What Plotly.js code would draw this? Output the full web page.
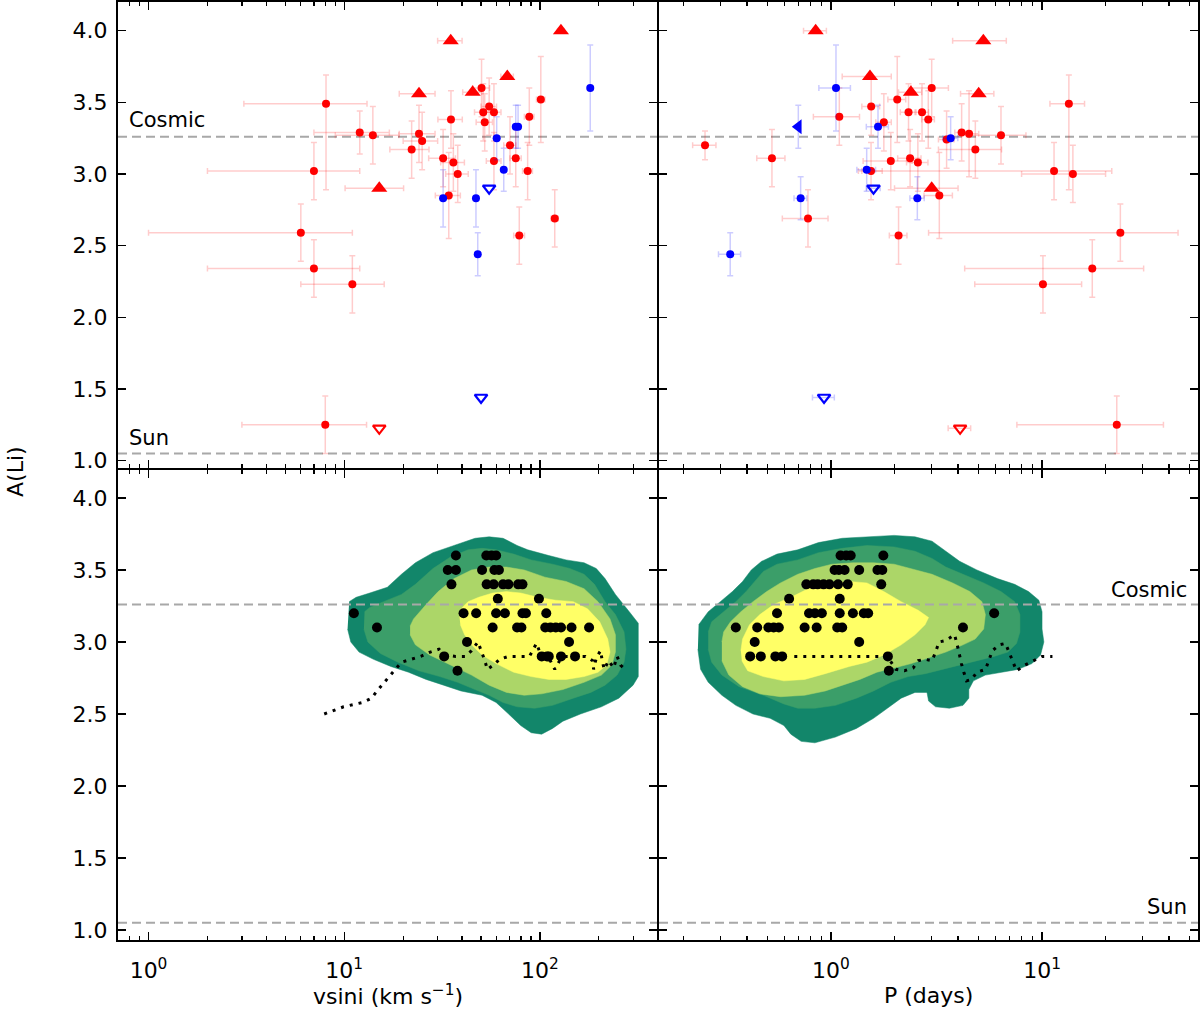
<!DOCTYPE html>
<html><head><meta charset="utf-8">
<script src="https://cdn.plot.ly/plotly-3.0.1.min.js"></script>
<style>html,body{margin:0;padding:0;background:#fff}#chart{width:1200px;height:1010px}</style>
</head><body><div id="chart"></div>
<script>
// Reference abundances
const COSMIC = 3.26, SUN = 1.05;

// ---------- Top-left: A(Li) vs vsini ----------
const vsiniRed = [8.07, 7.0, 12.0, 14.0, 6.0, 7.0, 11.0, 8.0, 50.3, 101, 88.2, 55.0, 51.3, 58.2, 52.2, 35.1, 24.1, 25.0, 22.1, 32.0, 36.1, 38.0, 34.2, 70.3, 75.2, 58.2, 86.5, 119, 78.4];
const aliRedV   = [3.49, 3.02, 3.29, 3.27, 2.59, 2.34, 2.23, 1.25, 3.60, 3.52, 3.40, 3.47, 3.43, 3.43, 3.36, 3.38, 3.28, 3.23, 3.17, 3.11, 3.08, 3.00, 2.85, 3.20, 3.11, 3.09, 3.02, 2.69, 2.57];
const vsiniRedErr = [5, 5, 5, 5, 5, 5, 5, 5, 5, 5, 5, 5, 5, 5, 5, 5, 5, 5, 5, 5, 5, 5, 5, 5, 5, 5, 5, 5, 5];
const aliRedVErrUp = [0.2, 0.2, 0.15, 0.2, 0.2, 0.2, 0.2, 0.2, 0.2, 0.3, 0.2, 0.2, 0.2, 0.2, 0.2, 0.2, 0.2, 0.2, 0.2, 0.2, 0.2, 0.2, 0.3, 0.2, 0.2, 0.2, 0.2, 0.2, 0.2];
const aliRedVErrDn = [0.6, 0.2, 0.15, 0.2, 0.2, 0.2, 0.2, 0.2, 0.2, 0.3, 0.2, 0.2, 0.2, 0.2, 0.2, 0.2, 0.2, 0.2, 0.2, 0.2, 0.2, 0.2, 0.3, 0.2, 0.2, 0.2, 0.2, 0.2, 0.2];

const vsiniRedLow = [35.0, 128, 24.1, 45.3, 68.1, 15.1];      // lower limits (filled triangles)
const aliRedLowV  = [3.93, 4.00, 3.56, 3.57, 3.68, 2.90];
const vsiniRedLowErr = [5, 5, 5, 5, 5, 5];

const vsiniRedUp = [15.1];                                      // upper limits (open triangles)
const aliRedUpV  = [1.225];

const vsiniBlue = [180.7, 75.2, 77.3, 60.1, 65.3, 32.0, 47.1, 48.1];
const aliBlueV  = [3.60, 3.33, 3.33, 3.25, 3.03, 2.83, 2.83, 2.44];
const aliBlueVErr = [0.3, 0.15, 0.15, 0.15, 0.15, 0.2, 0.2, 0.15];

const vsiniBlueUp = [55.0, 50.0];
const aliBlueUpV  = [2.90, 1.44];

// ---------- Top-right: A(Li) vs P ----------
const perRed = [1.095, 0.253, 0.525, 2.06, 3.00, 1.55, 2.33, 2.70, 2.89, 1.78, 1.92, 2.37, 2.58, 1.548, 0.778, 2.09, 13.4, 3.53, 4.16, 4.51, 6.39, 4.83, 11.4, 14.0, 3.26, 23.5, 17.3, 10.1, 22.6];
const aliRedP = [3.40, 3.20, 3.11, 3.52, 3.60, 3.47, 3.43, 3.43, 3.38, 3.36, 3.09, 3.11, 3.08, 3.02, 2.69, 2.57, 3.49, 3.24, 3.29, 3.28, 3.27, 3.17, 3.02, 3.00, 2.85, 2.59, 2.34, 2.23, 1.25];
const perRedErr = [0.27, 0.032, 0.08, 0.2, 0.6, 0.15, 0.2, 0.2, 0.2, 0.15, 0.5, 0.3, 0.3, 0.2, 0.19, 0.2, 2.5, 0.3, 0.3, 0.5, 2.0, 1.6, 10, 6, 0.5, 20.6, 13, 5.3, 15];
const aliRedPErrUp = [0.2, 0.1, 0.2, 0.3, 0.2, 0.2, 0.2, 0.2, 0.2, 0.2, 0.2, 0.2, 0.2, 0.2, 0.2, 0.2, 0.2, 0.2, 0.2, 0.3, 0.2, 0.2, 0.2, 0.2, 0.3, 0.2, 0.2, 0.2, 0.2];
const aliRedPErrDn = [0.2, 0.1, 0.2, 0.3, 0.2, 0.2, 0.2, 0.2, 0.2, 0.2, 0.2, 0.2, 0.2, 0.2, 0.2, 0.2, 0.6, 0.2, 0.2, 0.3, 0.2, 0.2, 0.2, 0.2, 0.3, 0.2, 0.2, 0.2, 0.2];

const perRedLow = [0.846, 1.53, 2.39, 5.27, 5.01, 3.00];
const aliRedLowP = [4.00, 3.68, 3.57, 3.93, 3.56, 2.90];
const perRedLowErr = [0.105, 0.4, 0.3, 1.5, 0.9, 1.0];

const perRedUp = [4.09];
const aliRedUpP = [1.225];
const perRedUpErr = [0.5];

const perBlue = [1.056, 1.67, 1.476, 0.718, 2.565, 0.333, 3.69];
const aliBlueP = [3.60, 3.33, 3.03, 2.83, 2.83, 2.44, 3.25];
const perBlueErr = [0.18, 0.2, 0.15, 0.05, 0.2, 0.04, 0.3];
const aliBluePErr = [0.3, 0.15, 0.15, 0.15, 0.15, 0.15, 0.15];

const perBlueLim = [0.70];          // period upper limit (left triangle)
const aliBlueLimP = [3.33];
const aliBlueLimPErr = [0.15];

const perBlueUp = [1.59, 0.927];
const aliBlueUpP = [2.90, 1.44];
const perBlueUpErr = [0.12, 0.11];

// ---------- Bottom panels: comparison sample ----------
const vsiniCmp = [37.2, 53.2, 56.6, 59.7,
  33.8, 37.2, 50.6, 58.5, 61.7,
  35.3, 53.4, 58.0, 64.8, 69.0, 77.4, 81.4,
  60.9, 98.8,
  11.2, 40.7, 47.2, 59.7, 66.2, 81.4, 84.8, 107.7,
  14.7, 57.3, 76.4, 80.4, 106.4, 113.2, 120.4, 128.1, 145.0, 178.2,
  42.4, 140.8,
  32.4, 102.1, 108.6, 110.9, 128.1, 151.1,
  37.9];
const aliCmpV = [3.6, 3.6, 3.6, 3.6,
  3.5, 3.5, 3.5, 3.5, 3.5,
  3.4, 3.4, 3.4, 3.4, 3.4, 3.4, 3.4,
  3.3, 3.3,
  3.2, 3.2, 3.2, 3.2, 3.2, 3.2, 3.2, 3.2,
  3.1, 3.1, 3.1, 3.1, 3.1, 3.1, 3.1, 3.1, 3.1, 3.1,
  3.0, 3.0,
  2.9, 2.9, 2.9, 2.9, 2.9, 2.9,
  2.8];
const perCmp = [1.11, 1.18, 1.24, 1.77,
  1.04, 1.09, 1.16, 1.36, 1.66, 1.75,
  0.764, 0.824, 0.865, 0.922, 0.983, 1.08, 1.20, 1.73,
  0.633, 1.10,
  0.555, 0.787, 0.839, 0.905, 1.10, 1.27, 1.43, 1.50, 5.93,
  0.354, 0.447, 0.505, 0.535, 0.566, 0.750, 0.855, 1.07, 1.13, 4.22,
  0.435, 1.36,
  0.414, 0.465, 0.545, 0.587, 1.86,
  1.88];
const aliCmpP = [3.6, 3.6, 3.6, 3.6,
  3.5, 3.5, 3.5, 3.5, 3.5, 3.5,
  3.4, 3.4, 3.4, 3.4, 3.4, 3.4, 3.4, 3.4,
  3.3, 3.3,
  3.2, 3.2, 3.2, 3.2, 3.2, 3.2, 3.2, 3.2, 3.2,
  3.1, 3.1, 3.1, 3.1, 3.1, 3.1, 3.1, 3.1, 3.1, 3.1,
  3.0, 3.0,
  2.9, 2.9, 2.9, 2.9, 2.9,
  2.8];

// Running trend (dotted)
const vsiniTrend = [7.90, 9.92, 12.4, 13.8, 14.7, 15.8, 17.0, 18.2, 19.6, 22.0, 24.6, 27.5, 30.5, 32.8, 37.1, 41.5, 44.7, 48.2, 50.2, 52.3, 53.8, 57.8, 62.2, 69.0, 88.4, 92.1, 96.0, 101, 113, 119, 126, 136, 171, 186, 188, 194, 204, 208, 213, 224, 238, 248, 258, 277];
const aliTrendV  = [2.50, 2.55, 2.58, 2.61, 2.66, 2.71, 2.76, 2.81, 2.86, 2.88, 2.90, 2.93, 2.95, 2.91, 2.90, 2.90, 2.94, 3.00, 2.94, 2.87, 2.81, 2.84, 2.88, 2.90, 2.90, 2.94, 2.99, 2.91, 2.87, 2.81, 2.87, 2.90, 2.90, 2.87, 2.81, 2.89, 2.94, 2.87, 2.81, 2.87, 2.82, 2.90, 2.84, 2.80];
const perTrend = [0.670, 1.85, 2.03, 2.23, 2.45, 2.59, 2.79, 3.01, 3.13, 3.25, 3.50, 3.85, 3.95, 4.04, 4.15, 4.26, 4.39, 4.64, 4.91, 5.40, 5.60, 5.82, 6.27, 6.71, 7.02, 7.29, 7.57, 8.31, 9.13, 10.0, 11.2];
const aliTrendP = [2.90, 2.90, 2.81, 2.80, 2.82, 2.87, 2.88, 2.87, 2.93, 3.00, 3.01, 3.05, 2.99, 2.92, 2.85, 2.79, 2.73, 2.74, 2.79, 2.81, 2.88, 2.94, 2.98, 2.99, 2.92, 2.86, 2.80, 2.84, 2.87, 2.90, 2.90];

// Density contour outlines (outer -> inner), vsini panel
const kdeV1x = [10.6, 11.5, 13.5, 16.6, 19.6, 23.1, 28.4, 36.4, 46.6, 55.0, 64.8, 76.4, 86.6, 111, 136, 168, 194, 215, 243, 286, 318, 318, 299, 253, 206, 161, 131, 116, 102, 90.2, 79.7, 70.4, 59.7, 50.6, 39.5, 32.2, 26.2, 21.3, 17.3, 14.1, 11.9, 10.8, 10.4];
const kdeV1y = [3.28, 3.31, 3.34, 3.38, 3.47, 3.55, 3.62, 3.67, 3.72, 3.73, 3.72, 3.67, 3.64, 3.60, 3.57, 3.55, 3.51, 3.44, 3.33, 3.21, 3.13, 2.76, 2.70, 2.61, 2.55, 2.50, 2.45, 2.40, 2.36, 2.37, 2.42, 2.49, 2.58, 2.63, 2.66, 2.70, 2.74, 2.79, 2.83, 2.88, 2.93, 3.00, 3.09];
const kdeV2x = [12.7, 13.5, 15.9, 19.6, 23.1, 28.4, 34.9, 42.9, 50.6, 59.7, 73.4, 90.2, 116, 142, 168, 190, 215, 243, 269, 275, 269, 248, 215, 182, 148, 116, 94.0, 76.4, 64.8, 55.0, 46.6, 37.9, 30.8, 24.1, 18.8, 15.3, 13.2, 12.6];
const kdeV2y = [3.21, 3.24, 3.28, 3.33, 3.40, 3.51, 3.59, 3.64, 3.65, 3.64, 3.61, 3.57, 3.54, 3.51, 3.47, 3.40, 3.28, 3.19, 3.07, 2.95, 2.86, 2.77, 2.70, 2.65, 2.61, 2.56, 2.54, 2.55, 2.58, 2.63, 2.67, 2.72, 2.76, 2.80, 2.86, 2.92, 3.00, 3.09];
const kdeV3x = [21.7, 22.6, 26.2, 30.2, 36.4, 44.7, 55.0, 67.5, 83.1, 106, 136, 168, 198, 228, 243, 243, 233, 206, 168, 131, 102, 83.1, 67.5, 55.0, 44.7, 34.9, 27.3, 23.1, 21.7];
const kdeV3y = [3.11, 3.16, 3.26, 3.35, 3.44, 3.50, 3.52, 3.52, 3.50, 3.45, 3.42, 3.37, 3.28, 3.16, 3.05, 2.93, 2.84, 2.77, 2.72, 2.67, 2.64, 2.63, 2.65, 2.70, 2.77, 2.84, 2.91, 2.98, 3.05];
const kdeV4x = [38.7, 39.5, 42.9, 48.6, 57.3, 67.5, 79.7, 97.9, 120, 148, 175, 202, 222, 228, 219, 198, 168, 136, 111, 90.2, 73.4, 59.7, 50.6, 44.7, 41.2, 39.2];
const kdeV4y = [3.19, 3.23, 3.28, 3.31, 3.34, 3.35, 3.34, 3.31, 3.29, 3.28, 3.23, 3.14, 3.02, 2.93, 2.84, 2.79, 2.76, 2.74, 2.74, 2.76, 2.79, 2.85, 2.91, 2.98, 3.05, 3.12];

// Density contour outlines (outer -> inner), period panel
const kdeP1x = [0.236, 0.262, 0.299, 0.341, 0.381, 0.419, 0.469, 0.555, 0.696, 0.872, 1.13, 1.48, 1.99, 2.50, 3.01, 3.50, 4.07, 4.91, 6.15, 7.42, 8.63, 9.66, 10.0, 10.0, 10.2, 9.84, 8.96, 7.71, 6.39, 5.39, 4.73, 4.50, 4.50, 4.22, 3.64, 3.13, 2.90, 2.85, 2.50, 2.15, 1.85, 1.59, 1.32, 1.05, 0.839, 0.722, 0.645, 0.598, 0.515, 0.427, 0.354, 0.304, 0.262, 0.241, 0.234];
const kdeP1y = [3.12, 3.21, 3.28, 3.35, 3.42, 3.50, 3.56, 3.61, 3.64, 3.69, 3.72, 3.73, 3.74, 3.73, 3.70, 3.63, 3.56, 3.50, 3.44, 3.40, 3.35, 3.29, 3.21, 3.09, 3.00, 2.91, 2.85, 2.81, 2.79, 2.77, 2.73, 2.67, 2.61, 2.56, 2.54, 2.55, 2.59, 2.65, 2.65, 2.61, 2.54, 2.47, 2.40, 2.34, 2.30, 2.31, 2.36, 2.42, 2.47, 2.50, 2.56, 2.63, 2.72, 2.81, 2.95];
const kdeP2x = [0.262, 0.272, 0.310, 0.354, 0.396, 0.435, 0.478, 0.555, 0.696, 0.872, 1.13, 1.48, 1.99, 2.50, 3.01, 3.50, 4.22, 5.29, 6.39, 7.42, 7.86, 7.86, 7.57, 6.89, 5.93, 4.91, 4.07, 3.37, 2.80, 2.32, 1.92, 1.59, 1.32, 1.05, 0.839, 0.696, 0.598, 0.478, 0.367, 0.304, 0.272, 0.262];
const kdeP2y = [3.07, 3.14, 3.21, 3.28, 3.35, 3.42, 3.49, 3.54, 3.57, 3.62, 3.65, 3.67, 3.66, 3.63, 3.58, 3.52, 3.47, 3.41, 3.35, 3.28, 3.19, 3.07, 2.99, 2.93, 2.90, 2.87, 2.84, 2.81, 2.78, 2.76, 2.72, 2.66, 2.61, 2.56, 2.54, 2.54, 2.57, 2.63, 2.69, 2.77, 2.86, 2.95];
const kdeP3x = [0.304, 0.310, 0.334, 0.374, 0.427, 0.496, 0.576, 0.696, 0.839, 1.01, 1.27, 1.59, 1.99, 2.40, 3.01, 3.77, 4.55, 5.19, 5.39, 5.29, 4.82, 4.22, 3.50, 2.90, 2.40, 1.99, 1.65, 1.37, 1.13, 0.939, 0.750, 0.576, 0.460, 0.381, 0.328, 0.304];
const kdeP3y = [3.00, 3.07, 3.14, 3.21, 3.28, 3.35, 3.41, 3.47, 3.51, 3.54, 3.55, 3.55, 3.54, 3.51, 3.47, 3.41, 3.35, 3.28, 3.19, 3.09, 3.02, 2.98, 2.93, 2.89, 2.85, 2.82, 2.79, 2.74, 2.70, 2.66, 2.63, 2.62, 2.64, 2.69, 2.77, 2.87];
const kdeP4x = [0.374, 0.381, 0.411, 0.460, 0.535, 0.645, 0.779, 0.975, 1.22, 1.48, 1.78, 2.15, 2.59, 2.90, 2.79, 2.50, 2.15, 1.78, 1.48, 1.22, 0.939, 0.750, 0.598, 0.478, 0.403, 0.378];
const kdeP4y = [2.94, 3.02, 3.12, 3.19, 3.26, 3.31, 3.37, 3.41, 3.42, 3.41, 3.35, 3.28, 3.22, 3.17, 3.12, 3.05, 2.98, 2.91, 2.86, 2.83, 2.78, 2.74, 2.73, 2.76, 2.80, 2.87];

// Tick labels
const vsiniTicks = [1, 10, 100];
const vsiniTickText = ['10<sup>0</sup>', '10<sup>1</sup>', '10<sup>2</sup>'];
const vsiniMinor = [0.8, 0.9, 2, 3, 4, 5, 6, 7, 8, 9, 20, 30, 40, 50, 60, 70, 80, 90, 200, 300, 400];
const perTicks = [1, 10];
const perTickText = ['10<sup>0</sup>', '10<sup>1</sup>'];
const perMinor = [0.2, 0.3, 0.4, 0.5, 0.6, 0.7, 0.8, 0.9, 2, 3, 4, 5, 6, 7, 8, 9, 20, 30, 40, 50];

// ---------- styling ----------
const FONT = 'DejaVu Sans, Liberation Sans, sans-serif';
const RED = '#ff0000', BLUE = '#0000ff';
const REDERR = 'rgba(255,0,0,0.2)', BLUEERR = 'rgba(0,0,255,0.2)';
const KDE = ['#12866a', '#3b9e69', '#acd668', '#ffff66'];

function pts(xa, ya, x, y, marker, ex, eyUp, eyDn, ecol) {
  const t = {type: 'scatter', mode: 'markers', x: x, y: y, xaxis: xa, yaxis: ya, marker: marker, hoverinfo: 'skip'};
  if (ex) t.error_x = {type: 'data', array: ex, color: ecol, thickness: 1.5, width: 3};
  if (eyUp) t.error_y = {type: 'data', symmetric: false, array: eyUp, arrayminus: eyDn || eyUp, color: ecol, thickness: 1.5, width: 3};
  return t;
}
function region(xa, ya, x, y, color) {
  return {type: 'scatter', mode: 'lines', x: x, y: y, xaxis: xa, yaxis: ya, fill: 'toself', fillcolor: color,
          line: {width: 0.5, color: color}, hoverinfo: 'skip'};
}
function trend(xa, ya, x, y) {
  return {type: 'scatter', mode: 'lines', x: x, y: y, xaxis: xa, yaxis: ya, line: {color: 'black', width: 3, dash: '3px,6px'}, hoverinfo: 'skip'};
}

const redDot = {color: RED, size: 8};
const blueDot = {color: BLUE, size: 8};
const redTri = {color: RED, size: 14, symbol: 'triangle-up'};
const redOpen = {color: RED, size: 11, symbol: 'triangle-down-open', line: {color: RED, width: 2.2}};
const blueOpen = {color: BLUE, size: 11, symbol: 'triangle-down-open', line: {color: BLUE, width: 2.2}};
const blueLeft = {color: BLUE, size: 13, symbol: 'triangle-left'};
const blackDot = {color: 'black', size: 10};

const traces = [
  // top-left
  pts('x', 'y', vsiniRed, aliRedV, redDot, vsiniRedErr, aliRedVErrUp, aliRedVErrDn, REDERR),
  pts('x', 'y', vsiniRedLow, aliRedLowV, redTri, vsiniRedLowErr, null, null, REDERR),
  pts('x', 'y', vsiniRedUp, aliRedUpV, redOpen),
  pts('x', 'y', vsiniBlue, aliBlueV, blueDot, null, aliBlueVErr, null, BLUEERR),
  pts('x', 'y', vsiniBlueUp, aliBlueUpV, blueOpen),
  // top-right
  pts('x2', 'y2', perRed, aliRedP, redDot, perRedErr, aliRedPErrUp, aliRedPErrDn, REDERR),
  pts('x2', 'y2', perRedLow, aliRedLowP, redTri, perRedLowErr, null, null, REDERR),
  pts('x2', 'y2', perRedUp, aliRedUpP, redOpen, perRedUpErr, null, null, REDERR),
  pts('x2', 'y2', perBlue, aliBlueP, blueDot, perBlueErr, aliBluePErr, null, BLUEERR),
  pts('x2', 'y2', perBlueLim, aliBlueLimP, blueLeft, null, aliBlueLimPErr, null, BLUEERR),
  pts('x2', 'y2', perBlueUp, aliBlueUpP, blueOpen, perBlueUpErr, null, null, BLUEERR),
  // bottom-left
  region('x3', 'y3', kdeV1x, kdeV1y, KDE[0]),
  region('x3', 'y3', kdeV2x, kdeV2y, KDE[1]),
  region('x3', 'y3', kdeV3x, kdeV3y, KDE[2]),
  region('x3', 'y3', kdeV4x, kdeV4y, KDE[3]),
  trend('x3', 'y3', vsiniTrend, aliTrendV),
  pts('x3', 'y3', vsiniCmp, aliCmpV, blackDot),
  // bottom-right
  region('x4', 'y4', kdeP1x, kdeP1y, KDE[0]),
  region('x4', 'y4', kdeP2x, kdeP2y, KDE[1]),
  region('x4', 'y4', kdeP3x, kdeP3y, KDE[2]),
  region('x4', 'y4', kdeP4x, kdeP4y, KDE[3]),
  trend('x4', 'y4', perTrend, aliTrendP),
  pts('x4', 'y4', perCmp, aliCmpP, blackDot)
];

const axBase = {showline: true, linecolor: 'black', linewidth: 2, mirror: 'allticks', ticks: 'inside', ticklen: 8,
  tickwidth: 1.5, tickcolor: 'black', showgrid: false, zeroline: false, tickfont: {family: FONT, size: 22, color: 'black'}};
function xAxis(domain, anchor, range, tv, tt, minor, labels) {
  return Object.assign({}, axBase, {domain: domain, anchor: anchor, type: 'log', range: range, tickmode: 'array',
    tickvals: tv, ticktext: tt, showticklabels: labels, ticklabelstandoff: 10,
    minor: {ticks: 'inside', ticklen: 4, tickwidth: 1.2, tickcolor: 'black', tickmode: 'array', tickvals: minor, showgrid: false}});
}
function yAxis(domain, anchor, range, labels) {
  return Object.assign({}, axBase, {domain: domain, anchor: anchor, range: range, tickmode: 'linear', tick0: 1, dtick: 0.5,
    tickformat: '.1f', showticklabels: labels, ticklabelstandoff: 4});
}

// panel domains chosen so that shared borders coincide
const XL = [0, 539 / 1080], XR = [541 / 1080, 1];
const YB = [0, 470 / 938], YT = [472 / 938, 1];

function hline(xr, yr, y, layer) {
  return {type: 'line', xref: xr + ' domain', yref: yr, x0: 0, x1: 1, y0: y, y1: y, layer: layer,
          line: {color: '#a8a8a8', width: 2, dash: '9px,5px'}};
}
function label(xr, yr, x, y, text, anchor) {
  return {xref: xr + ' domain', yref: yr, x: x, y: y, text: text, showarrow: false, xanchor: anchor, yanchor: 'middle',
          font: {family: FONT, size: 21, color: 'black'}};
}
function axisTitle(xr, text) {
  return {xref: xr + ' domain', yref: 'paper', x: 0.5, y: -0.059, text: text, showarrow: false,
          xanchor: 'center', yanchor: 'middle', font: {family: FONT, size: 22, color: 'black'}};
}

const layout = {
  width: 1200, height: 1010,
  margin: {l: 118, r: 2, t: 2, b: 70},
  paper_bgcolor: 'white', plot_bgcolor: 'white', showlegend: false,
  font: {family: FONT, size: 22, color: 'black'},
  xaxis: xAxis(XL, 'y', [-0.156, 2.598], vsiniTicks, vsiniTickText, vsiniMinor, false),
  xaxis2: xAxis(XR, 'y2', [-0.815, 1.739], perTicks, perTickText, perMinor, false),
  xaxis3: xAxis(XL, 'y3', [-0.156, 2.598], vsiniTicks, vsiniTickText, vsiniMinor, true),
  xaxis4: xAxis(XR, 'y4', [-0.815, 1.739], perTicks, perTickText, perMinor, true),
  yaxis: yAxis(YT, 'x', [0.948, 4.200], true),
  yaxis2: yAxis(YT, 'x2', [0.948, 4.200], false),
  yaxis3: yAxis(YB, 'x3', [0.931, 4.194], true),
  yaxis4: yAxis(YB, 'x4', [0.931, 4.194], false),
  shapes: [
    hline('x', 'y', COSMIC, 'below'), hline('x', 'y', SUN, 'below'),
    hline('x2', 'y2', COSMIC, 'below'), hline('x2', 'y2', SUN, 'below'),
    hline('x3', 'y3', COSMIC, 'above'), hline('x3', 'y3', SUN, 'above'),
    hline('x4', 'y4', COSMIC, 'above'), hline('x4', 'y4', SUN, 'above')
  ],
  annotations: [
    label('x', 'y', 0.017, 3.376, 'Cosmic', 'left'),
    label('x', 'y', 0.017, 1.157, 'Sun', 'left'),
    label('x4', 'y4', 0.983, 3.361, 'Cosmic', 'right'),
    label('x4', 'y4', 0.983, 1.162, 'Sun', 'right'),
    axisTitle('x3', 'vsini (km s<sup>−1</sup>)'),
    axisTitle('x4', 'P (days)'),
    {xref: 'paper', yref: 'paper', x: -0.0954, y: 0.5, text: 'A(Li)', textangle: -90, showarrow: false,
     xanchor: 'center', yanchor: 'middle', font: {family: FONT, size: 22, color: 'black'}}
  ]
};

Plotly.newPlot('chart', traces, layout, {staticPlot: true, displayModeBar: false});
</script></body></html>
